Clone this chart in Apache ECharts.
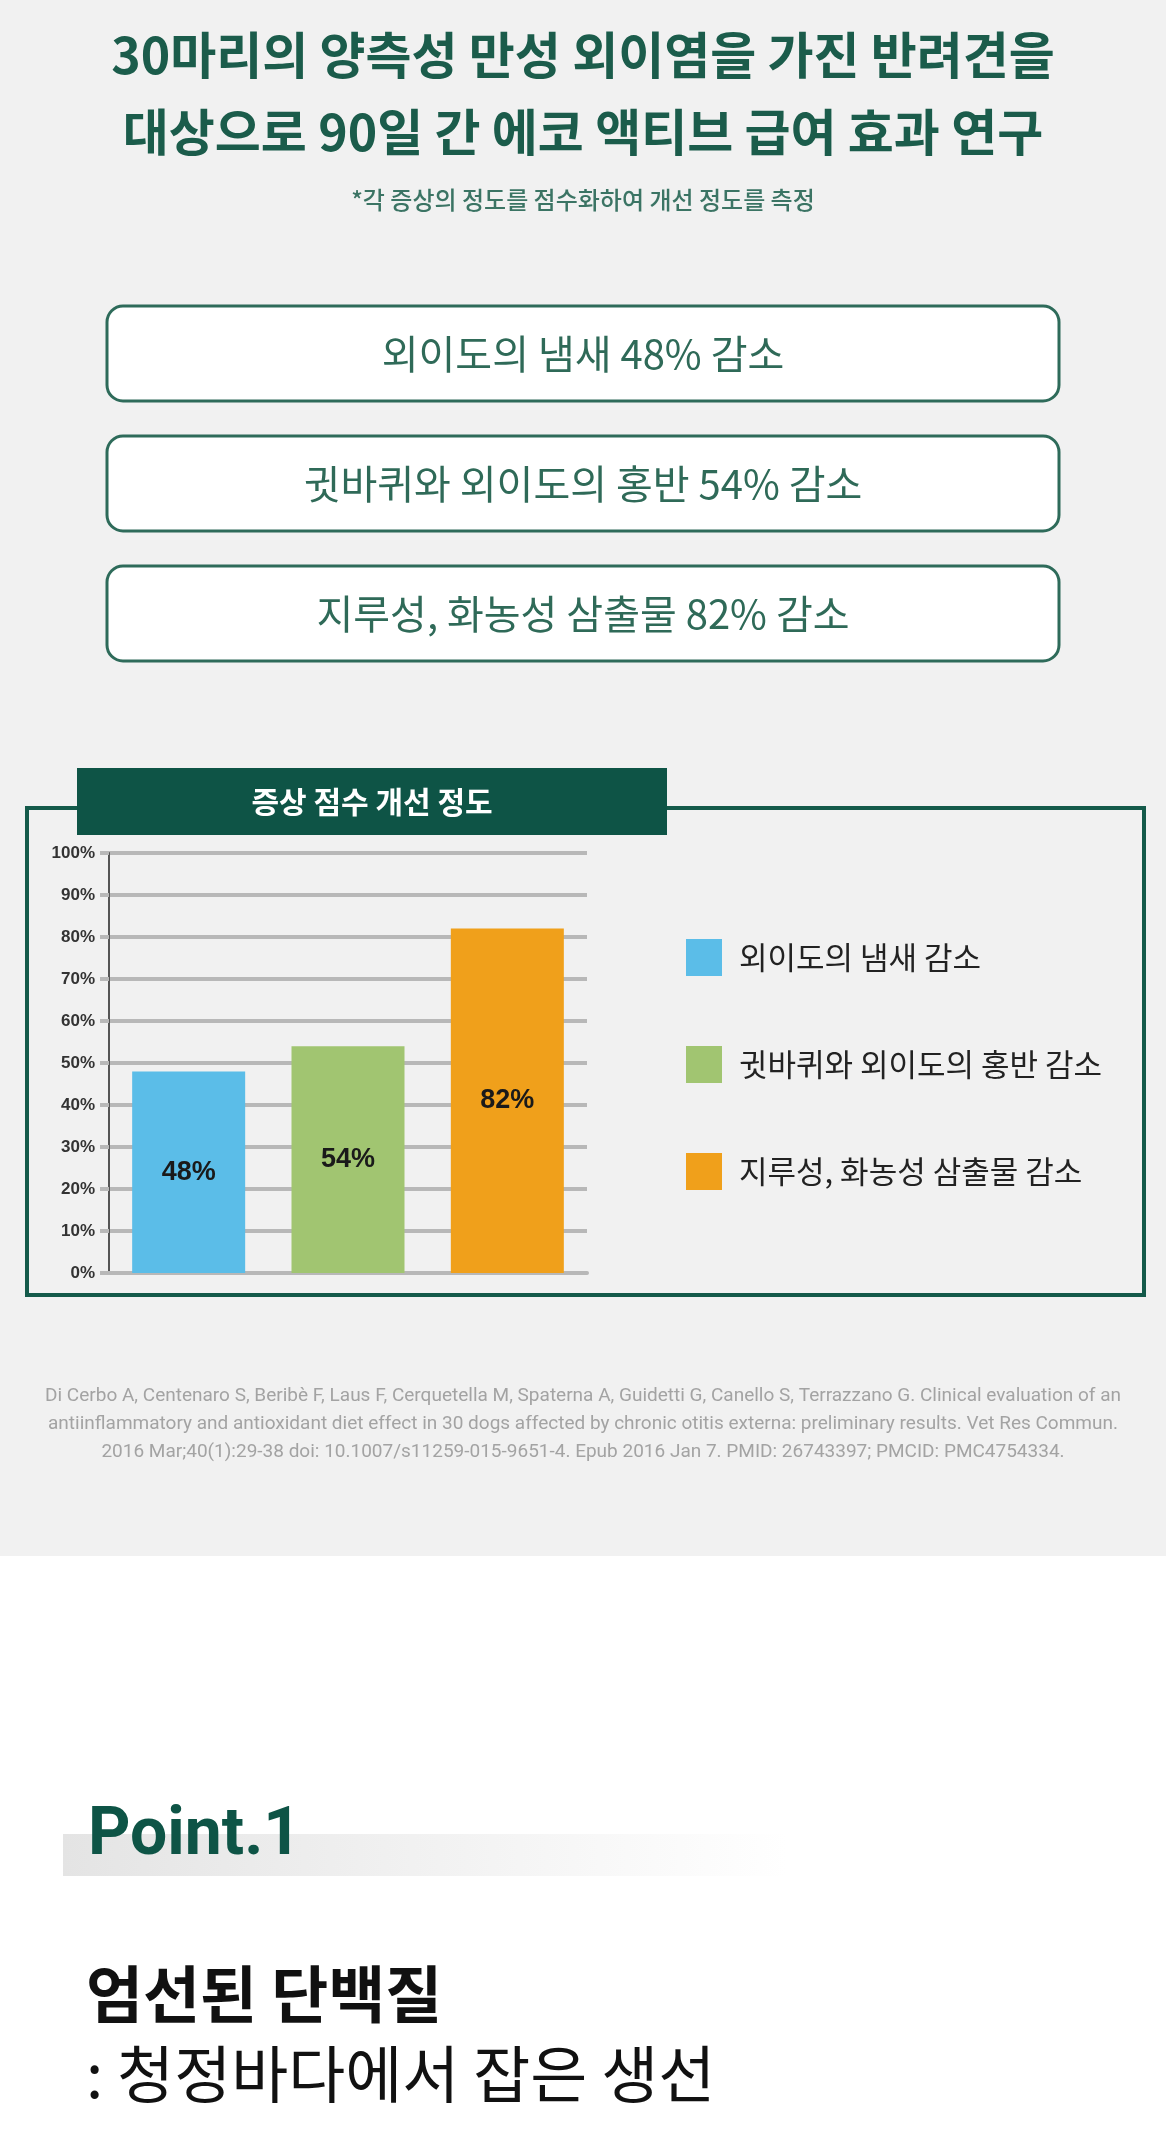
<!DOCTYPE html>
<html>
<head>
<meta charset="utf-8">
<script src="https://cdn.jsdelivr.net/npm/echarts@6/dist/echarts.min.js"></script>
<style>
  html, body { margin: 0; padding: 0; background: #fff; }
  #main { width: 1166px; height: 2129px; }
</style>
</head>
<body>
<div id="main"></div>
<script>
// 데이터
var titleLines = ['30마리의 양측성 만성 외이염을 가진 반려견을', '대상으로 90일 간 에코 액티브 급여 효과 연구'];
var subTitle = '*각 증상의 정도를 점수화하여 개선 정도를 측정';
var highlights = ['외이도의 냄새 48% 감소', '귓바퀴와 외이도의 홍반 54% 감소', '지루성, 화농성 삼출물 82% 감소'];
var chartTitle = '증상 점수 개선 정도';
var categories = ['외이도의 냄새 감소', '귓바퀴와 외이도의 홍반 감소', '지루성, 화농성 삼출물 감소'];
var reductions = [48, 54, 82];
var citation = [
  'Di Cerbo A, Centenaro S, Beribè F, Laus F, Cerquetella M, Spaterna A, Guidetti G, Canello S, Terrazzano G. Clinical evaluation of an',
  'antiinflammatory and antioxidant diet effect in 30 dogs affected by chronic otitis externa: preliminary results. Vet Res Commun.',
  '2016 Mar;40(1):29-38 doi: 10.1007/s11259-015-9651-4. Epub 2016 Jan 7. PMID: 26743397; PMCID: PMC4754334.'
];
var pointLabel = 'Point.1';
var pointHead = '엄선된 단백질';
var pointSub = ': 청정바다에서 잡은 생선';

var palette = ['#5bbde8', '#a1c571', '#f0a01b'];
var KR = '"Noto Sans CJK KR", sans-serif';
var green = '#1b5c4b';

var chart = echarts.init(document.getElementById('main'));

var g = [];
// 회색 배경
g.push({ type: 'rect', z: -10, shape: { x: 0, y: 0, width: 1166, height: 1556 }, style: { fill: '#f1f1f1' } });

titleLines.forEach(function (t, i) {
  g.push({ type: 'text', style: { text: t, x: 583, y: 55 + i * 77, textAlign: 'center', textVerticalAlign: 'middle',
    fontFamily: KR, fontSize: 50, fontWeight: 'bold', fill: green } });
});
g.push({ type: 'text', style: { text: subTitle, x: 583, y: 200, textAlign: 'center', textVerticalAlign: 'middle',
  fontFamily: KR, fontSize: 24, fontWeight: 500, fill: '#3b7464' } });

highlights.forEach(function (t, i) {
  var y = 306 + i * 130;
  g.push({ type: 'rect', shape: { x: 107, y: y, width: 952, height: 95, r: 16 },
    style: { fill: '#ffffff', stroke: '#2e6b5a', lineWidth: 3 } });
  g.push({ type: 'text', style: { text: t, x: 583, y: y + 48, textAlign: 'center', textVerticalAlign: 'middle',
    fontFamily: KR, fontSize: 40, fill: '#2f6a58' } });
});

// 차트 패널
g.push({ type: 'rect', shape: { x: 27, y: 808, width: 1117, height: 487 },
  style: { fill: 'transparent', stroke: '#145a4a', lineWidth: 4 } });
g.push({ type: 'rect', shape: { x: 77, y: 768, width: 590, height: 67 }, style: { fill: '#0e5446' } });
g.push({ type: 'text', style: { text: chartTitle, x: 372, y: 802, textAlign: 'center', textVerticalAlign: 'middle',
  fontFamily: KR, fontSize: 30, fontWeight: 'bold', fill: '#ffffff' } });

citation.forEach(function (t, i) {
  g.push({ type: 'text', style: { text: t, x: 583, y: 1396 + i * 28, textAlign: 'center', textVerticalAlign: 'middle',
    fontFamily: 'Roboto, sans-serif', fontSize: 19, fill: '#a3a3a3' } });
});

// Point.1
g.push({ type: 'rect', shape: { x: 63, y: 1834, width: 725, height: 42 },
  style: { fill: new echarts.graphic.LinearGradient(0, 0, 1, 0, [
    { offset: 0, color: '#e4e4e4' }, { offset: 1, color: '#ffffff' }]) } });
g.push({ type: 'text', style: { text: pointLabel, x: 88, y: 1870, textAlign: 'left', textVerticalAlign: 'bottom',
  fontFamily: 'Roboto, sans-serif', fontSize: 66, fontWeight: 'bold', fill: '#0e5446' } });
g.push({ type: 'text', style: { text: pointHead, x: 86, y: 1994, textAlign: 'left', textVerticalAlign: 'middle',
  fontFamily: KR, fontSize: 62, fontWeight: 'bold', fill: '#111' } });
g.push({ type: 'text', style: { text: pointSub, x: 86, y: 2074, textAlign: 'left', textVerticalAlign: 'middle',
  fontFamily: KR, fontSize: 62, fill: '#111' } });

var series = categories.map(function (name, i) {
  return {
    name: name,
    type: 'bar',
    stack: 'all',
    barWidth: 113,
    itemStyle: { color: palette[i] },
    label: {
      show: true, position: 'inside', formatter: '{c}%',
      fontFamily: 'Arial, sans-serif', fontSize: 27, fontWeight: 'bold', color: '#1a1a1a'
    },
    data: reductions.map(function (v, j) { return j === i ? v : '-'; })
  };
});

var option = {
  backgroundColor: '#ffffff',
  animation: false,
  graphic: g,
  grid: { left: 109, top: 853, width: 478, height: 420 },
  legend: {
    orient: 'vertical', left: 686, top: 939,
    itemWidth: 36, itemHeight: 37, itemGap: 70, padding: 0,
    icon: 'rect',
    textStyle: { fontFamily: KR, fontSize: 31, color: '#222', padding: [0, 0, 0, 12] },
    data: categories
  },
  xAxis: {
    type: 'category', data: categories,
    axisLine: { lineStyle: { color: '#b8b8b8', width: 4 } },
    axisTick: { show: false },
    axisLabel: { show: false }
  },
  yAxis: {
    type: 'value', min: 0, max: 100, interval: 10,
    axisLine: { show: true, lineStyle: { color: '#555', width: 2 } },
    axisTick: { show: true, length: 9, lineStyle: { color: '#b8b8b8', width: 4 } },
    axisLabel: { formatter: '{value}%', margin: 14, fontFamily: 'Arial, sans-serif', fontSize: 17,
      fontWeight: 'bold', color: '#333' },
    splitLine: { lineStyle: { color: '#b8b8b8', width: 4 } }
  },
  series: series
};
chart.setOption(option);
</script>
</body>
</html>
